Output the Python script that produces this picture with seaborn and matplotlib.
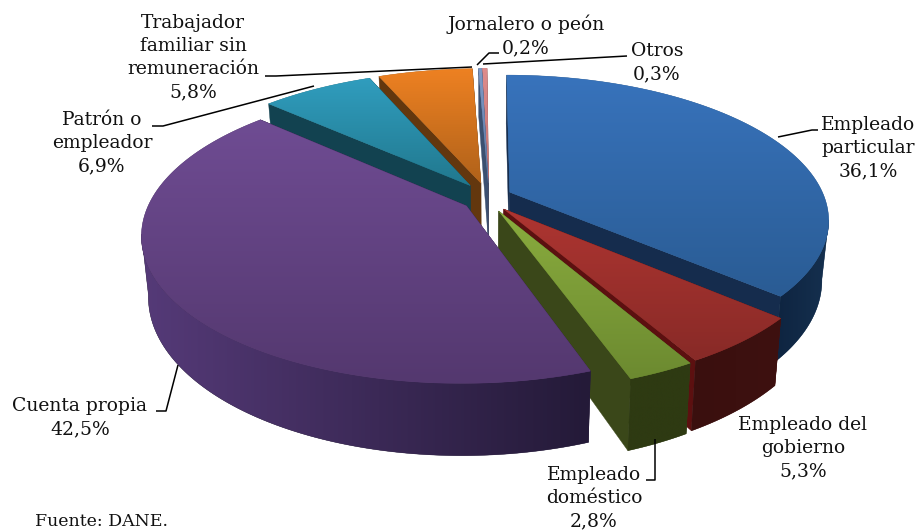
import numpy as np
import seaborn as sns
import matplotlib
matplotlib.use("Agg")
import matplotlib.pyplot as plt
from matplotlib.patches import Polygon

categories = ["Empleado particular", "Empleado del gobierno", "Empleado doméstico",
              "Cuenta propia", "Patrón o empleador", "Trabajador familiar sin remuneración",
              "Jornalero o peón", "Otros"]
shares = [36.1, 5.3, 2.8, 42.5, 6.9, 5.8, 0.2, 0.3]

# colours: top face (upper, lower), cut face, outer wall (left, right)
top_colors = [("#3873BC", "#2A5C94"), ("#AE3531", "#882A27"), ("#8AAC3E", "#6C8A30"),
              ("#6F4C93", "#54386F"), ("#309DBE", "#21788E"), ("#EE8122", "#B0621A"),
              ("#7F9AC6", "#5F7AA6"), ("#DE8C8C", "#C07070")]
cut_colors = ["#152C4D", "#5C1010", "#3A4719", "#2A1D42", "#124250", "#63370E", "#3C5070", "#704040"]
wall_colors = [("#0E2440", "#15304F"), ("#3A0F0E", "#3E1110"), ("#2E3A12", "#2E3A12"),
               ("#553A78", "#241A38"), ("#124250", "#124250"), ("#63370E", "#63370E"),
               ("#3C5070", "#3C5070"), ("#704040", "#704040")]

# how far each slice is pulled out, across and along the disk
explode_x = [0.073, 0.073, 0.073, 0.085, 0.105, 0.12, 0.08, 0.08]
explode_y = [0.10, 0.10, 0.10, 0.10, 0.11, 0.11, 0.11, 0.11]
draw_order = [7, 6, 5, 4, 0, 1, 2, 3]

# projection of the disk on the canvas (pixels)
CX, CY = 489, 198
R, B, D = 315, 141, 58
K = 0.187
SHRINK = 0.02
WARP = np.radians(1.5)

sns.set_theme(style="white")
plt.rcParams['font.family'] = ['DejaVu Serif']
plt.rcParams['font.size'] = 13.5


def project(x, y, z=0.0):
    w = 1 - K * y
    return CX + R * x / w * (1 - SHRINK * z), CY + (B * y + D * z) / w


def gradient_fill(ax, x, y, colors, vertical=True):
    ax.fill(x, y, color=colors[-1], lw=0.3, zorder=1)
    cmap = sns.blend_palette(colors, as_cmap=True)
    ramp = np.linspace(0, 1, 200)
    ramp = ramp[:, None] if vertical else ramp[None, :]
    im = ax.imshow(ramp, cmap=cmap, aspect='auto', origin='upper', vmin=0, vmax=1,
                   extent=[x.min(), x.max(), y.max(), y.min()], zorder=1)
    im.set_clip_path(Polygon(np.c_[x, y], closed=True, transform=ax.transData))


def draw_slice(ax, i, a0, a1):
    mid = (a0 + a1) / 2
    ox = explode_x[i] * np.sin(mid)
    oy = -explode_y[i] * np.cos(mid)
    t = np.linspace(a0, a1, max(int(np.degrees(a1 - a0) * 2), 3))
    rim_x = ox + np.sin(t)
    rim_y = oy - np.cos(t)

    # cut faces
    for k in (0, -1):
        px, py = project(np.array([ox, rim_x[k]]), np.array([oy, rim_y[k]]))
        qx, qy = project(np.array([rim_x[k], ox]), np.array([rim_y[k], oy]), 1.0)
        ax.fill(np.r_[px, qx], np.r_[py, qy], color=cut_colors[i], lw=0.3, zorder=1)

    # outer wall, only the rim below the widest point can be seen
    front = (rim_y - oy) > K
    if front.sum() > 1:
        px, py = project(rim_x[front], rim_y[front])
        qx, qy = project(rim_x[front][::-1], rim_y[front][::-1], 1.0)
        gradient_fill(ax, np.r_[px, qx], np.r_[py, qy], wall_colors[i], vertical=False)

    # top face
    fx, fy = project(np.r_[ox, rim_x], np.r_[oy, rim_y])
    gradient_fill(ax, fx, fy, top_colors[i])


fig = plt.figure(figsize=(9.2, 5.3), dpi=100)
ax = fig.add_axes([0, 0, 1, 1])

edges = np.radians(np.r_[0, np.cumsum(shares)] * 3.6)
edges = edges + WARP * (1 - np.cos(edges)) / 2
for i in draw_order:
    draw_slice(ax, i, edges[i], edges[i + 1])

ax.set_xlim(0, 920)
ax.set_ylim(530, 0)
ax.axis('off')

# leader lines
leaders = [
    [(265, 76), (276, 76), (472, 67)],
    [(152, 126), (163, 126), (314, 86)],
    [(477, 65), (489, 53), (499, 53)],
    [(483, 64), (627, 56)],
    [(778, 137), (812, 130), (818, 130)],
    [(178, 365), (166, 411), (156, 411)],
    [(655, 439), (655, 480), (646, 480)],
]
for pts in leaders:
    xs, ys = zip(*pts)
    ax.plot(xs, ys, color="black", lw=1.1, zorder=5, solid_capstyle='butt')

# data labels: x centre, y of first line top
label_text = ["Empleado\nparticular\n36,1%", "Empleado del\ngobierno\n5,3%", "Empleado\ndoméstico\n2,8%",
              "Cuenta propia\n42,5%", "Patrón o\nempleador\n6,9%",
              "Trabajador\nfamiliar sin\nremuneración\n5,8%", "Jornalero o peón\n0,2%", "Otros\n0,3%"]
label_xy = [(868, 116), (803, 416), (594, 466), (80, 397), (102, 111), (193, 14), (526, 15), (657, 42)]
for txt, (x, y) in zip(label_text, label_xy):
    ax.text(x, y, txt, ha='center', va='top', color="#111111", linespacing=1.36, zorder=6,
            multialignment='center')

ax.text(35, 521, "Fuente: DANE.", ha='left', va='center', color="#111111", fontsize=12.5, zorder=6)

fig.savefig("out.png", dpi=100)
